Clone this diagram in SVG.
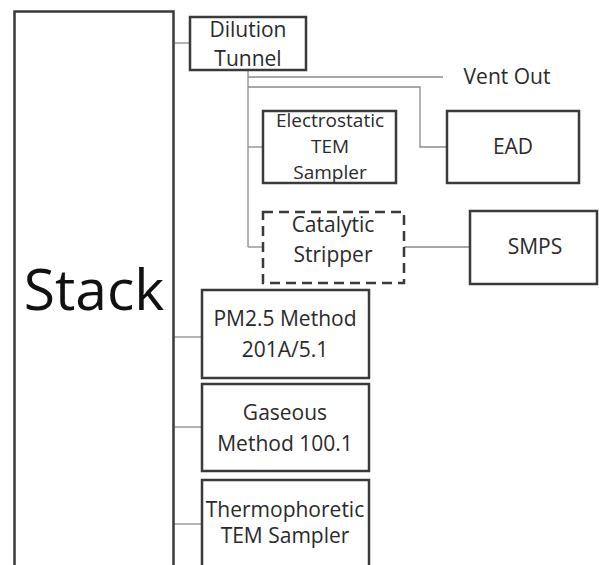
<svg xmlns="http://www.w3.org/2000/svg" width="599" height="565" viewBox="0 0 599 565">
  <style>
    .box { fill: #ffffff; stroke: #3a3a3a; stroke-width: 2.5; }
    .dash { fill: #ffffff; stroke: #3a3a3a; stroke-width: 2.5; stroke-dasharray: 10 6; }
    .wire { fill: none; stroke: #8a8a8a; stroke-width: 1.3; }
    .lbl { font-family: "Open Sans", "Noto Sans", "Liberation Sans", sans-serif; font-size: 21px; fill: #2a2a2a; text-anchor: middle; }
    .sm { font-size: 19px; }
    .big { font-family: "Open Sans", "Noto Sans", "Liberation Sans", sans-serif; font-size: 57px; fill: #111111; text-anchor: middle; }
  </style>
  <rect width="599" height="565" fill="#ffffff"/>

  <!-- connectors -->
  <g id="connectors">
    <line class="wire" x1="174" y1="43" x2="190" y2="43"/>
    <line class="wire" x1="248" y1="70" x2="248" y2="247"/>
    <line class="wire" x1="248" y1="77" x2="443" y2="77"/>
    <polyline class="wire" points="248,87 420,87 420,147 447,147"/>
    <line class="wire" x1="248" y1="147" x2="263" y2="147"/>
    <line class="wire" x1="248" y1="247" x2="263" y2="247"/>
    <line class="wire" x1="404" y1="247" x2="470" y2="247"/>
    <line class="wire" x1="174" y1="337" x2="202" y2="337"/>
    <line class="wire" x1="174" y1="427" x2="202" y2="427"/>
    <line class="wire" x1="174" y1="524" x2="202" y2="524"/>
  </g>

  <g id="stack">
    <rect class="box" x="14.5" y="11.5" width="159" height="570"/>
    <text class="big" x="94" y="310">Stack</text>
  </g>

  <g id="dilution-tunnel">
    <rect class="box" x="190" y="17" width="116" height="53"/>
    <text class="lbl" x="248" y="37">Dilution</text>
    <text class="lbl" x="248" y="66">Tunnel</text>
  </g>

  <g id="vent-out">
    <text class="lbl" x="507" y="84">Vent Out</text>
  </g>

  <g id="electrostatic-tem">
    <rect class="box" x="263" y="111" width="133" height="72"/>
    <text class="lbl sm" x="330" y="127">Electrostatic</text>
    <text class="lbl sm" x="330" y="153">TEM</text>
    <text class="lbl sm" x="330" y="179">Sampler</text>
  </g>

  <g id="ead">
    <rect class="box" x="447" y="111" width="132" height="72"/>
    <text class="lbl" x="513" y="154">EAD</text>
  </g>

  <g id="catalytic-stripper">
    <rect class="dash" x="263" y="212" width="141" height="71"/>
    <text class="lbl" x="333" y="232">Catalytic</text>
    <text class="lbl" x="333" y="262">Stripper</text>
  </g>

  <g id="smps">
    <rect class="box" x="470" y="211" width="127" height="73"/>
    <text class="lbl" x="535" y="254">SMPS</text>
  </g>

  <g id="pm25">
    <rect class="box" x="202" y="290" width="167" height="88"/>
    <text class="lbl" x="285" y="326">PM2.5 Method</text>
    <text class="lbl" x="285" y="357">201A/5.1</text>
  </g>

  <g id="gaseous">
    <rect class="box" x="202" y="384" width="167" height="87"/>
    <text class="lbl" x="285" y="420">Gaseous</text>
    <text class="lbl" x="285" y="451">Method 100.1</text>
  </g>

  <g id="thermophoretic-tem">
    <rect class="box" x="202" y="480" width="167" height="100"/>
    <text class="lbl" x="285" y="517">Thermophoretic</text>
    <text class="lbl" x="285" y="543">TEM Sampler</text>
  </g>
</svg>
